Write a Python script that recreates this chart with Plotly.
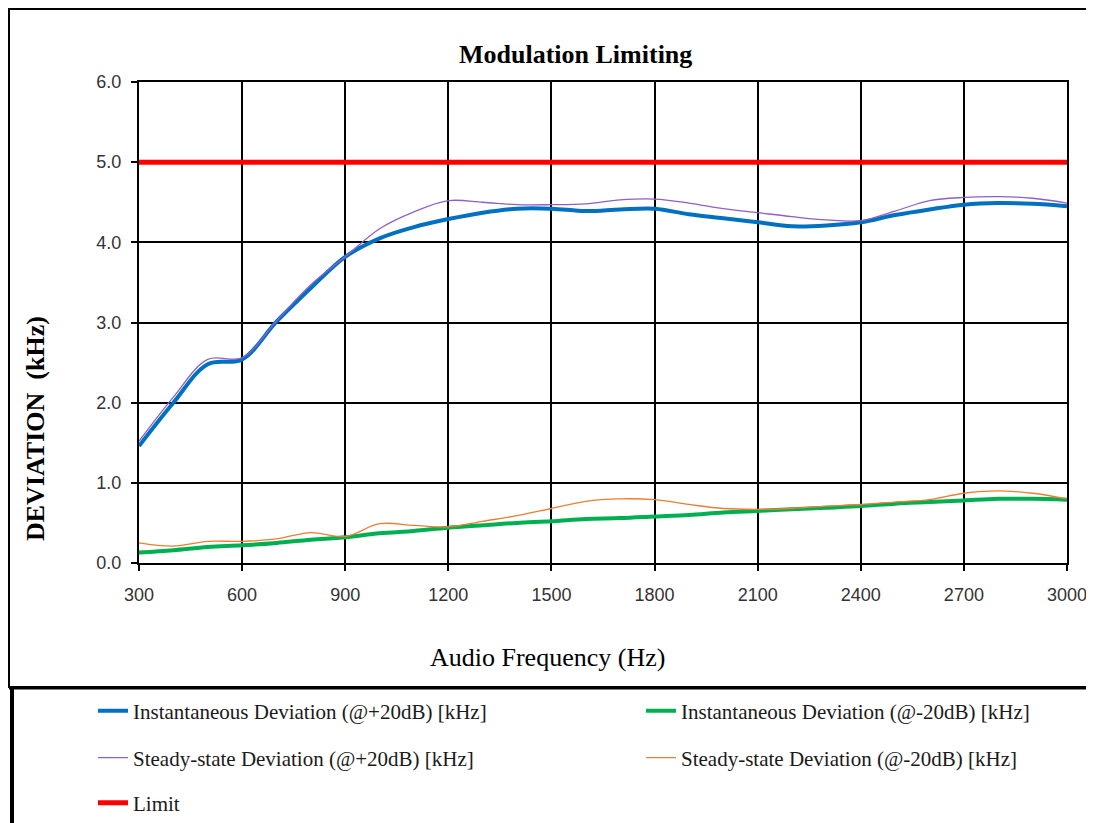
import plotly.graph_objects as go

freq = [300, 400, 500, 600, 700, 800, 900, 1000, 1100, 1200, 1300, 1400, 1500, 1600,
        1700, 1800, 1900, 2000, 2100, 2200, 2300, 2400, 2500, 2600, 2700, 2800, 2900, 3000]

inst_p20 = [1.46, 2.00, 2.48, 2.54, 3.01, 3.43, 3.82, 4.05, 4.19, 4.29, 4.37, 4.42, 4.42, 4.39,
            4.41, 4.42, 4.35, 4.30, 4.25, 4.20, 4.21, 4.25, 4.34, 4.41, 4.47, 4.49, 4.48, 4.45]
inst_m20 = [0.13, 0.16, 0.20, 0.22, 0.25, 0.29, 0.32, 0.37, 0.40, 0.44, 0.47, 0.50, 0.52, 0.55,
            0.56, 0.58, 0.60, 0.63, 0.65, 0.67, 0.69, 0.71, 0.74, 0.76, 0.78, 0.80, 0.80, 0.79]
steady_p20 = [1.52, 2.07, 2.54, 2.56, 3.02, 3.47, 3.82, 4.17, 4.38, 4.52, 4.50, 4.47, 4.47, 4.48,
              4.53, 4.54, 4.49, 4.42, 4.37, 4.32, 4.28, 4.27, 4.39, 4.52, 4.56, 4.57, 4.55, 4.49]
steady_m20 = [0.25, 0.21, 0.27, 0.27, 0.30, 0.38, 0.33, 0.49, 0.47, 0.45, 0.52, 0.59, 0.68, 0.77,
              0.80, 0.79, 0.73, 0.68, 0.67, 0.68, 0.71, 0.73, 0.76, 0.79, 0.87, 0.90, 0.87, 0.80]
limit = [5.0] * len(freq)

names = ["Instantaneous Deviation (@+20dB) [kHz]",
         "Instantaneous Deviation (@-20dB) [kHz]",
         "Steady-state Deviation (@+20dB) [kHz]",
         "Steady-state Deviation (@-20dB) [kHz]",
         "Limit"]

# page has an 8px body margin: figure sits at (8, 8)
OFF = 8
W, H = 1094 - OFF, 823 - OFF
PL, PR, PT, PB = 139, 1067, 82, 563          # plot area in page pixels
pw, ph = PR - PL, PB - PT

def px(x):
    return (x - PL) / pw

def py(y):
    return (PB - y) / ph

serif = "Liberation Serif, Times New Roman, serif"
sans = "Liberation Sans, Arial, sans-serif"

fig = go.Figure()
fig.add_trace(go.Scatter(x=freq, y=inst_p20, name=names[0], mode="lines", line_shape="spline",
                         line=dict(color="#0070C0", width=4), legend="legend"))
fig.add_trace(go.Scatter(x=freq, y=inst_m20, name=names[1], mode="lines", line_shape="spline",
                         line=dict(color="#00B050", width=4), legend="legend2"))
fig.add_trace(go.Scatter(x=freq, y=steady_p20, name=names[2], mode="lines", line_shape="spline",
                         line=dict(color="#8E5FC8", width=1.3), legend="legend3"))
fig.add_trace(go.Scatter(x=freq, y=steady_m20, name=names[3], mode="lines", line_shape="spline",
                         line=dict(color="#ED7D31", width=1.3), legend="legend4"))
fig.add_trace(go.Scatter(x=freq, y=limit, name=names[4], mode="lines",
                         line=dict(color="#FF0000", width=5), legend="legend5"))

leg_common = dict(orientation="h", xref="paper", yref="paper", xanchor="left", yanchor="middle",
                  font=dict(family=serif, size=21, color="#1a1a1a"), bgcolor="rgba(0,0,0,0)",
                  borderwidth=0)

col1, col2 = 93, 641
row1, row2, row3 = 711, 758, 803

fig.update_layout(
    width=W, height=H,
    margin=dict(l=PL - OFF, r=W - (PR - OFF), t=PT - OFF, b=H - (PB - OFF), pad=0, autoexpand=False),
    paper_bgcolor="white", plot_bgcolor="white",
    showlegend=True,
    legend=dict(x=px(col1), y=py(row1), **leg_common),
    legend2=dict(x=px(col2), y=py(row1), **leg_common),
    legend3=dict(x=px(col1), y=py(row2), **leg_common),
    legend4=dict(x=px(col2), y=py(row2), **leg_common),
    legend5=dict(x=px(col1), y=py(row3), **leg_common),
    xaxis=dict(range=[300, 3000], tick0=300, dtick=300, showgrid=True, gridcolor="black", gridwidth=2,
               showline=True, linecolor="black", linewidth=2, mirror=True, automargin=False,
               ticks="outside", ticklen=6, tickwidth=2, tickcolor="black", ticklabelstandoff=8,
               tickfont=dict(family=sans, size=18, color="#333333"), zeroline=False),
    yaxis=dict(range=[0, 6], dtick=1, tickformat=".1f", showgrid=True, gridcolor="black", gridwidth=2,
               showline=True, linecolor="black", linewidth=2, mirror=True, automargin=False,
               ticks="outside", ticklen=6, tickwidth=2, tickcolor="black", ticklabelstandoff=6,
               tickfont=dict(family=sans, size=18, color="#333333"), zeroline=False),
    annotations=[
        dict(text="<b>Modulation Limiting</b>", x=px(575), y=py(55), xref="paper", yref="paper",
             showarrow=False, font=dict(family=serif, size=26, color="black"),
             xanchor="center", yanchor="middle"),
        dict(text="Audio Frequency (Hz)", x=px(547), y=py(657), xref="paper", yref="paper",
             showarrow=False, font=dict(family=serif, size=26, color="black"),
             xanchor="center", yanchor="middle"),
        dict(text="<b>DEVIATION  (kHz)</b>", x=px(35), y=py(429), xref="paper", yref="paper",
             showarrow=False, textangle=-90, font=dict(family=serif, size=26, color="black"),
             xanchor="center", yanchor="middle"),
    ],
    shapes=[
        dict(type="rect", xref="paper", yref="paper", x0=px(9), x1=px(1120), y0=py(687), y1=py(9),
             line=dict(color="black", width=2), layer="below"),
        dict(type="line", xref="paper", yref="paper", x0=px(12), x1=px(12), y0=py(688), y1=py(840),
             line=dict(color="black", width=4)),
        dict(type="line", xref="paper", yref="paper", x0=px(9), x1=px(1120), y0=py(688), y1=py(688),
             line=dict(color="black", width=3)),
    ],
)

fig.write_html("out.html")
